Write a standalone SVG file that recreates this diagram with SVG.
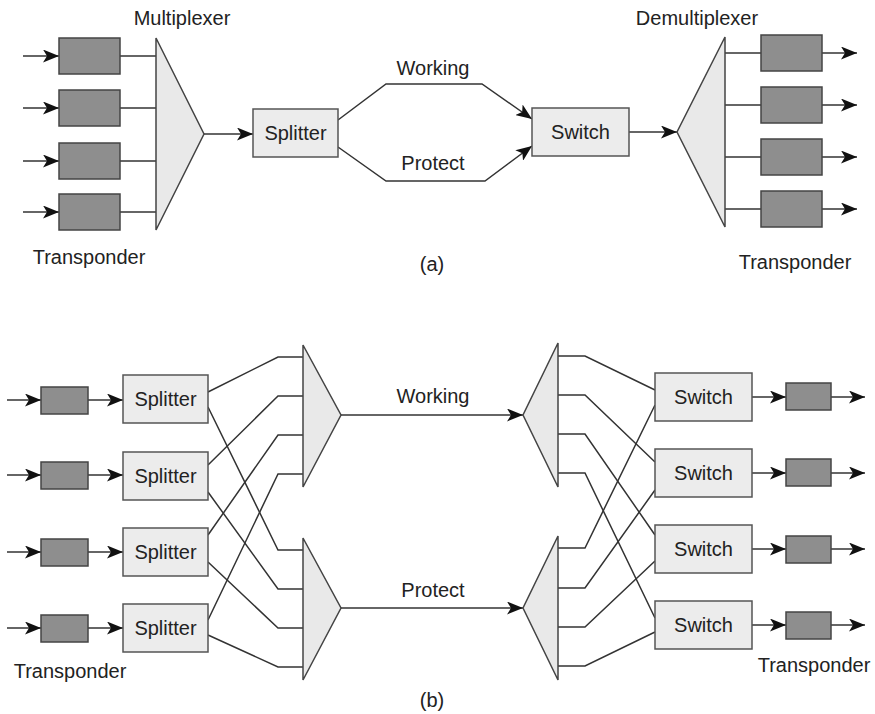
<svg xmlns="http://www.w3.org/2000/svg" width="875" height="714" viewBox="0 0 875 714">
<style>
text{font-family:"Liberation Sans",Arial,sans-serif;font-size:20px;fill:#222}
.c{text-anchor:middle}
.tp{fill:#8e8e8e;stroke:#444;stroke-width:1.5}
.bx{fill:#ececec;stroke:#555;stroke-width:1.5}
.tri{fill:#e9e9e9;stroke:#444;stroke-width:1.5}
.ln{fill:none;stroke:#333;stroke-width:1.5}
.ar{fill:none;stroke:#333;stroke-width:1.5;marker-end:url(#ah)}
</style>
<defs>
<marker id="ah" markerUnits="userSpaceOnUse" markerWidth="17" markerHeight="13" refX="16" refY="6.5" orient="auto">
<path d="M0,0 L16,6.5 L0,13 L4,6.5 z" fill="#111"/>
</marker>
</defs>
<rect width="875" height="714" fill="#fff"/>

<!-- (a) -->
<g id="connectors-a">
<line class="ar" x1="23" y1="56" x2="59" y2="56"/>
<line class="ar" x1="23" y1="108" x2="59" y2="108"/>
<line class="ar" x1="23" y1="161" x2="59" y2="161"/>
<line class="ar" x1="23" y1="212" x2="59" y2="212"/>
<line class="ln" x1="120" y1="56" x2="156" y2="56"/>
<line class="ln" x1="120" y1="108" x2="156" y2="108"/>
<line class="ln" x1="120" y1="161" x2="156" y2="161"/>
<line class="ln" x1="120" y1="212" x2="156" y2="212"/>
<line class="ar" x1="204" y1="134" x2="253" y2="134"/>
<path class="ar" d="M338,120 L386,84 L482,84 L532,119"/>
<path class="ar" d="M338,147 L386,181 L485,181 L532,146"/>
<line class="ar" x1="629" y1="132" x2="677" y2="132"/>
<line class="ln" x1="725" y1="53" x2="761" y2="53"/>
<line class="ln" x1="725" y1="105" x2="761" y2="105"/>
<line class="ln" x1="725" y1="157" x2="761" y2="157"/>
<line class="ln" x1="725" y1="209" x2="761" y2="209"/>
<line class="ar" x1="822" y1="53" x2="857" y2="53"/>
<line class="ar" x1="822" y1="105" x2="857" y2="105"/>
<line class="ar" x1="822" y1="157" x2="857" y2="157"/>
<line class="ar" x1="822" y1="209" x2="857" y2="209"/>
</g>
<g id="a-tp-in">
<rect class="tp" x="59" y="38" width="61" height="36"/>
<rect class="tp" x="59" y="90" width="61" height="36"/>
<rect class="tp" x="59" y="143" width="61" height="36"/>
<rect class="tp" x="59" y="194" width="61" height="36"/>
</g>
<g id="a-mux"><polygon class="tri" points="156,38 204,134 156,230"/></g>
<g id="a-splitter"><rect class="bx" x="253" y="109" width="85" height="48"/><text class="c" x="295.5" y="140">Splitter</text></g>
<g id="a-switch"><rect class="bx" x="532" y="108" width="97" height="48"/><text class="c" x="580.5" y="139">Switch</text></g>
<g id="a-demux"><polygon class="tri" points="725,37 677,132 725,227"/></g>
<g id="a-tp-out">
<rect class="tp" x="761" y="35" width="61" height="36"/>
<rect class="tp" x="761" y="87" width="61" height="36"/>
<rect class="tp" x="761" y="139" width="61" height="36"/>
<rect class="tp" x="761" y="191" width="61" height="36"/>
</g>
<g id="a-labels">
<text class="c" x="182" y="25">Multiplexer</text>
<text class="c" x="697" y="25">Demultiplexer</text>
<text class="c" x="89" y="264">Transponder</text>
<text class="c" x="795" y="269">Transponder</text>
<text class="c" x="433" y="75">Working</text>
<text class="c" x="433" y="170">Protect</text>
<text class="c" x="432" y="271">(a)</text>
</g>

<!-- (b) -->
<g id="connectors-b">
<line class="ar" x1="7" y1="400" x2="41" y2="400"/>
<line class="ar" x1="7" y1="475" x2="41" y2="475"/>
<line class="ar" x1="7" y1="552" x2="41" y2="552"/>
<line class="ar" x1="7" y1="628" x2="41" y2="628"/>
<line class="ar" x1="88" y1="400" x2="123" y2="400"/>
<line class="ar" x1="88" y1="475" x2="123" y2="475"/>
<line class="ar" x1="88" y1="552" x2="123" y2="552"/>
<line class="ar" x1="88" y1="628" x2="123" y2="628"/>
<path class="ln" d="M208,392 L278,357 L303,357"/>
<path class="ln" d="M208,465 L278,396 L303,396"/>
<path class="ln" d="M208,535 L278,435 L303,435"/>
<path class="ln" d="M208,620 L278,474 L303,474"/>
<path class="ln" d="M208,407 L278,550 L303,550"/>
<path class="ln" d="M208,492 L278,589 L303,589"/>
<path class="ln" d="M208,562 L278,628 L303,628"/>
<path class="ln" d="M208,635 L278,667 L303,667"/>
<line class="ar" x1="341" y1="415" x2="523" y2="415"/>
<line class="ar" x1="341" y1="608" x2="523" y2="608"/>
<path class="ln" d="M558,356 L585,356 L655,390"/>
<path class="ln" d="M558,395 L585,395 L655,462"/>
<path class="ln" d="M558,434 L585,434 L655,535"/>
<path class="ln" d="M558,473 L585,473 L655,618"/>
<path class="ln" d="M558,548 L585,548 L655,405"/>
<path class="ln" d="M558,588 L585,588 L655,490"/>
<path class="ln" d="M558,627 L585,627 L655,561"/>
<path class="ln" d="M558,666 L585,666 L655,632"/>
<line class="ar" x1="752" y1="397" x2="786" y2="397"/>
<line class="ar" x1="752" y1="473" x2="786" y2="473"/>
<line class="ar" x1="752" y1="549" x2="786" y2="549"/>
<line class="ar" x1="752" y1="625" x2="786" y2="625"/>
<line class="ar" x1="831" y1="397" x2="865" y2="397"/>
<line class="ar" x1="831" y1="473" x2="865" y2="473"/>
<line class="ar" x1="831" y1="549" x2="865" y2="549"/>
<line class="ar" x1="831" y1="625" x2="865" y2="625"/>
</g>
<g id="b-tp-in">
<rect class="tp" x="41" y="387" width="47" height="27"/>
<rect class="tp" x="41" y="462" width="47" height="27"/>
<rect class="tp" x="41" y="539" width="47" height="27"/>
<rect class="tp" x="41" y="615" width="47" height="27"/>
</g>
<g id="b-splitter1"><rect class="bx" x="123" y="375" width="85" height="48"/><text class="c" x="165.5" y="406">Splitter</text></g>
<g id="b-splitter2"><rect class="bx" x="123" y="452" width="85" height="48"/><text class="c" x="165.5" y="483">Splitter</text></g>
<g id="b-splitter3"><rect class="bx" x="123" y="528" width="85" height="48"/><text class="c" x="165.5" y="559">Splitter</text></g>
<g id="b-splitter4"><rect class="bx" x="123" y="604" width="85" height="48"/><text class="c" x="165.5" y="635">Splitter</text></g>
<g id="b-mux1"><polygon class="tri" points="303,345 341,415 303,487"/></g>
<g id="b-mux2"><polygon class="tri" points="303,538 341,608 303,680"/></g>
<g id="b-demux1"><polygon class="tri" points="558,343 523,415 558,487"/></g>
<g id="b-demux2"><polygon class="tri" points="558,536 523,608 558,680"/></g>
<g id="b-switch1"><rect class="bx" x="655" y="373" width="97" height="48"/><text class="c" x="703.5" y="404">Switch</text></g>
<g id="b-switch2"><rect class="bx" x="655" y="449" width="97" height="48"/><text class="c" x="703.5" y="480">Switch</text></g>
<g id="b-switch3"><rect class="bx" x="655" y="525" width="97" height="48"/><text class="c" x="703.5" y="556">Switch</text></g>
<g id="b-switch4"><rect class="bx" x="655" y="601" width="97" height="48"/><text class="c" x="703.5" y="632">Switch</text></g>
<g id="b-tp-out">
<rect class="tp" x="786" y="383" width="45" height="27"/>
<rect class="tp" x="786" y="459" width="45" height="27"/>
<rect class="tp" x="786" y="536" width="45" height="27"/>
<rect class="tp" x="786" y="612" width="45" height="27"/>
</g>
<g id="b-labels">
<text class="c" x="433" y="403">Working</text>
<text class="c" x="433" y="597">Protect</text>
<text class="c" x="70" y="678">Transponder</text>
<text class="c" x="814" y="672">Transponder</text>
<text class="c" x="432" y="707">(b)</text>
</g>
</svg>
